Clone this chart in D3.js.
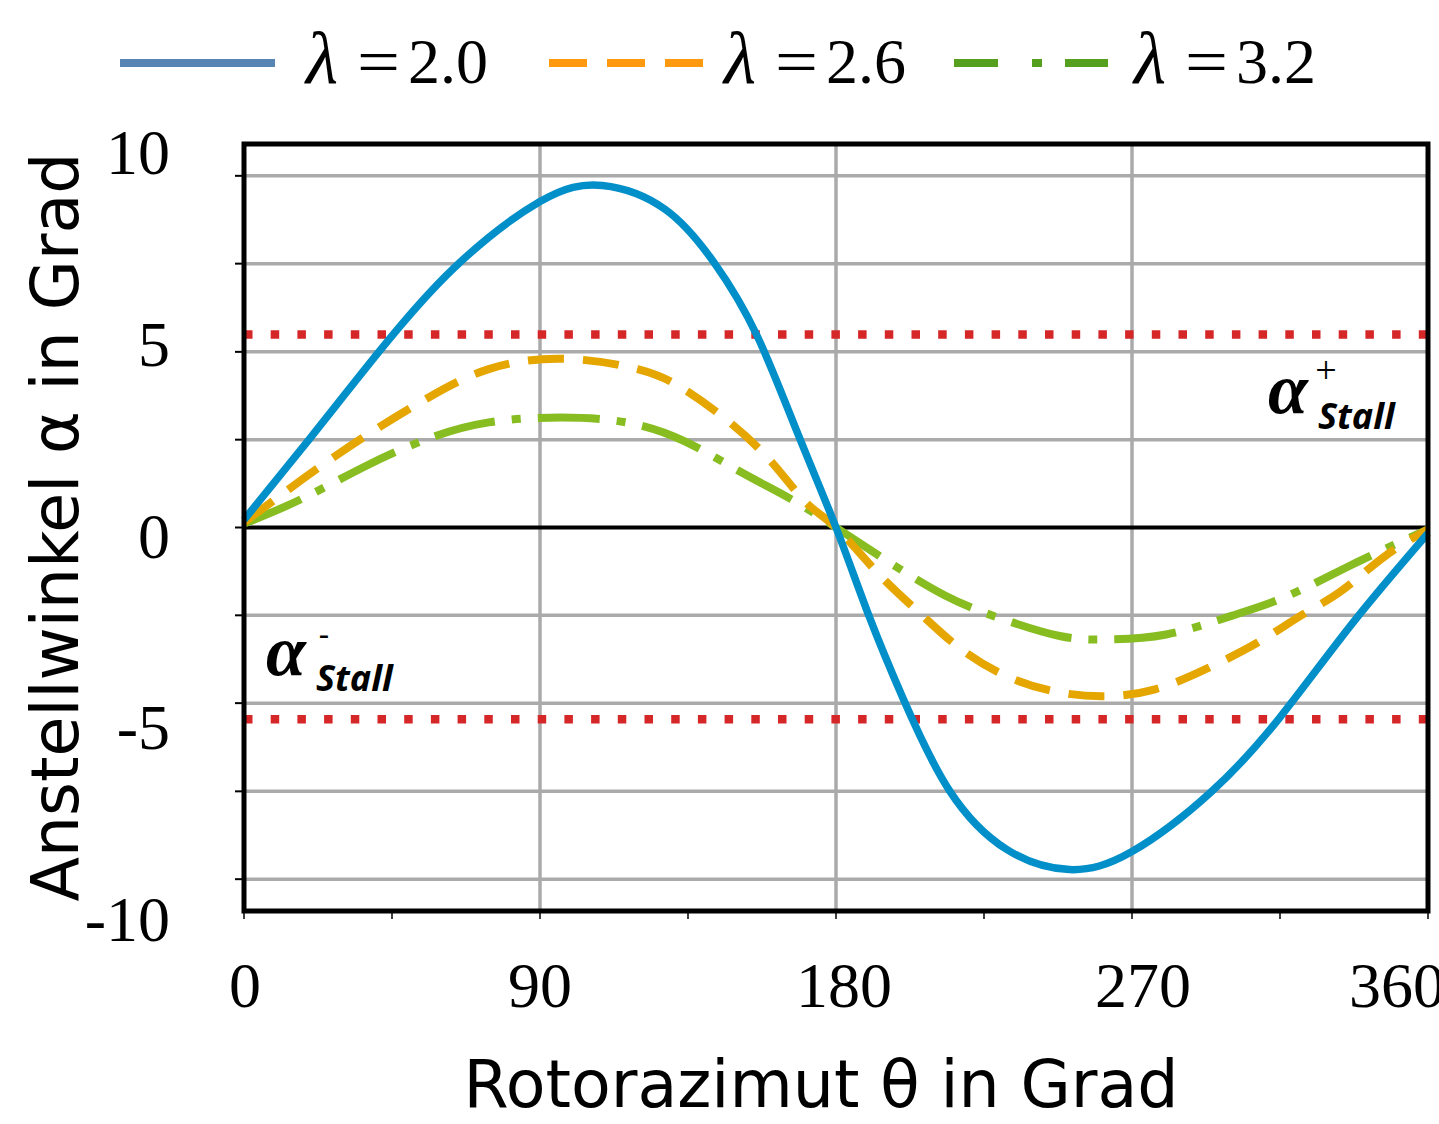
<!DOCTYPE html>
<html>
<head>
<meta charset="utf-8">
<script src="https://cdn.jsdelivr.net/npm/d3@7"></script>
<style>
  body { margin: 0; background: #fff; }
  svg { display: block; }
</style>
</head>
<body>
<svg id="chart" width="1439" height="1124"></svg>
<script>
// values
let lambdas = ['2.0', '2.6', '3.2'];

let thetaBlue = [0, 20, 41, 64, 90, 109, 128, 143, 156, 168.6, 180,
  190, 200.6, 214.5, 232, 251, 270, 294, 315, 337, 360];
let alphaBlue = [0.2, 2.32, 4.58, 6.78, 8.5, 8.92, 8.3, 6.9, 5.0, 2.4, 0,
  -2.3, -4.5, -6.86, -8.4, -8.92, -8.45, -6.9, -4.95, -2.5, -0.15];

let thetaOrange = [0, 27.9, 53.5, 74.4, 97, 119.7, 133.7, 147.7, 160.5, 170.9, 180,
  192.5, 205.3, 216.8, 230.7, 245.7, 260.8, 277, 293.2, 308.2, 322.1, 333.7, 346.4, 360];
let alphaOrange = [0.13, 1.87, 3.26, 4.13, 4.40, 4.13, 3.61, 2.74, 1.70, 0.65, 0,
  -1.17, -2.22, -3.09, -3.83, -4.26, -4.40, -4.22, -3.66, -3.0, -2.26, -1.65, -0.78, -0.05];

let thetaGreen = [0, 17.4, 37.2, 55.8, 74.4, 96.4, 116.3, 133.7, 151.2, 166.3, 180,
  194.8, 213.3, 230.7, 248, 261.9, 280.4, 300, 317.4, 338.3, 360];
let alphaGreen = [0.1, 0.74, 1.61, 2.31, 2.74, 2.87, 2.74, 2.26, 1.44, 0.74, 0,
  -0.83, -1.78, -2.39, -2.83, -2.92, -2.79, -2.31, -1.78, -0.91, -0.05];

let stallLevels = [5.03, -5.0];
let yGridValues = [-9.17, -6.88, -4.58, -2.29, 0, 2.29, 4.58, 6.88, 9.17];
let yTickLabels = [-10, -5, 0, 5, 10];
let xGridValues = [90, 180, 270];
let xMinorTicks = [0, 45, 90, 135, 180, 225, 270, 315, 360];
let xTickLabels = [0, 90, 180, 270, 360];

let svg = d3.select('#chart');

let x = d3.scaleLinear().domain([0, 360]).range([244, 1428]);
let y = d3.scaleLinear().domain([-10, 10]).range([911, 144]);

let serif = '"Liberation Serif", "Times New Roman", serif';
let sans = '"DejaVu Sans", sans-serif';

// grid
svg.append('g')
  .selectAll('line')
  .data(yGridValues.filter(d => d !== 0))
  .join('line')
  .attr('x1', x(0)).attr('x2', x(360))
  .attr('y1', d => y(d)).attr('y2', d => y(d))
  .attr('stroke', '#aaaaaa')
  .attr('stroke-width', 3.5);

svg.append('g')
  .selectAll('line')
  .data(xGridValues)
  .join('line')
  .attr('x1', d => x(d)).attr('x2', d => x(d))
  .attr('y1', y(10)).attr('y2', y(-10))
  .attr('stroke', '#aaaaaa')
  .attr('stroke-width', 3.5);

// zero line
svg.append('line')
  .attr('x1', x(0)).attr('x2', x(360))
  .attr('y1', y(0)).attr('y2', y(0))
  .attr('stroke', '#000')
  .attr('stroke-width', 4);

// stall limits
svg.append('g')
  .selectAll('line')
  .data(stallLevels)
  .join('line')
  .attr('x1', x(0)).attr('x2', x(360))
  .attr('y1', d => y(d)).attr('y2', d => y(d))
  .attr('stroke', '#d62728')
  .attr('stroke-width', 8.5)
  .attr('stroke-dasharray', '8.5,18.2');

// curves
let line = d3.line()
  .x(d => x(d[0]))
  .y(d => y(d[1]))
  .curve(d3.curveNatural);

let zip = (a, b) => a.map((v, i) => [v, b[i]]);

svg.append('path')
  .datum(zip(thetaGreen, alphaGreen))
  .attr('d', line)
  .attr('fill', 'none')
  .attr('stroke', '#88bd22')
  .attr('stroke-width', 8)
  .attr('stroke-dasharray', '62,17,9,17');

svg.append('path')
  .datum(zip(thetaOrange, alphaOrange))
  .attr('d', line)
  .attr('fill', 'none')
  .attr('stroke', '#e6a600')
  .attr('stroke-width', 8)
  .attr('stroke-dasharray', '36,19');

svg.append('path')
  .datum(zip(thetaBlue, alphaBlue))
  .attr('d', line)
  .attr('fill', 'none')
  .attr('stroke', '#008fc9')
  .attr('stroke-width', 7.5);

// ticks
svg.append('g')
  .selectAll('line')
  .data(yGridValues)
  .join('line')
  .attr('x1', x(0) - 9).attr('x2', x(0))
  .attr('y1', d => y(d)).attr('y2', d => y(d))
  .attr('stroke', '#000')
  .attr('stroke-width', 2);

svg.append('g')
  .selectAll('line')
  .data(xMinorTicks)
  .join('line')
  .attr('x1', d => x(d)).attr('x2', d => x(d))
  .attr('y1', y(-10)).attr('y2', y(-10) + 8)
  .attr('stroke', '#000')
  .attr('stroke-width', 1.5);

// frame
svg.append('rect')
  .attr('x', x(0)).attr('y', y(10))
  .attr('width', x(360) - x(0))
  .attr('height', y(-10) - y(10))
  .attr('fill', 'none')
  .attr('stroke', '#000')
  .attr('stroke-width', 5);

// tick labels
svg.append('g')
  .selectAll('text')
  .data(yTickLabels)
  .join('text')
  .attr('x', 170)
  .attr('y', d => y(d) + 30)
  .attr('text-anchor', 'end')
  .attr('font-family', serif)
  .attr('font-size', 64)
  .text(d => String(d));

let xLabelNudge = [1, 0, 8, 11, -31];
svg.append('g')
  .selectAll('text')
  .data(xTickLabels)
  .join('text')
  .attr('x', (d, i) => x(d) + xLabelNudge[i])
  .attr('y', 1007)
  .attr('text-anchor', 'middle')
  .attr('font-family', serif)
  .attr('font-size', 64)
  .text(d => String(d));

// axis titles
svg.append('text')
  .attr('x', 821)
  .attr('y', 1107)
  .attr('text-anchor', 'middle')
  .attr('font-family', sans)
  .attr('font-size', 65)
  .text('Rotorazimut θ in Grad');

svg.append('text')
  .attr('transform', 'translate(78,527) rotate(-90)')
  .attr('text-anchor', 'middle')
  .attr('font-family', sans)
  .attr('font-size', 65)
  .text('Anstellwinkel α in Grad');

// stall annotations
function stallLabel(ax, ay, sign) {
  let g = svg.append('g');
  g.append('text')
    .attr('x', ax).attr('y', ay)
    .attr('font-family', serif)
    .attr('font-size', 72)
    .attr('font-weight', 'bold')
    .attr('font-style', 'italic')
    .text('α');
  g.append('text')
    .attr('x', ax + 58).attr('y', ay - 30)
    .attr('text-anchor', 'middle')
    .attr('font-family', sign === '+' ? serif : sans)
    .attr('font-size', sign === '+' ? 38 : 30)
    .text(sign);
  g.append('text')
    .attr('x', ax + 50).attr('y', ay + 16)
    .attr('font-family', '"Noto Sans", sans-serif')
    .attr('font-size', 36)
    .attr('font-weight', 'bold')
    .attr('font-style', 'italic')
    .text('Stall');
}
stallLabel(1268, 413, '+');
stallLabel(266, 675, '-');

// legend
let legendColors = ['#5886b4', '#ff9a10', '#56a020'];
let legendDash = [null, '38,20', '44,34,10,23,44'];
let legendLineX = [[120, 275], [549, 705], [954, 1108]];
let legendTextX = [306, 724, 1134];

lambdas.forEach((lam, i) => {
  svg.append('line')
    .attr('x1', legendLineX[i][0]).attr('x2', legendLineX[i][1])
    .attr('y1', 63).attr('y2', 63)
    .attr('stroke', legendColors[i])
    .attr('stroke-width', 8)
    .attr('stroke-dasharray', legendDash[i]);
  svg.append('text')
    .attr('x', legendTextX[i]).attr('y', 83)
    .attr('font-family', serif)
    .attr('font-style', 'italic')
    .attr('font-size', 74)
    .text('λ');
  svg.append('text')
    .attr('x', legendTextX[i] + 51).attr('y', 83)
    .attr('font-family', serif)
    .attr('font-size', 64)
    .attr('textLength', 43)
    .attr('lengthAdjust', 'spacingAndGlyphs')
    .text('=');
  svg.append('text')
    .attr('x', legendTextX[i] + 102).attr('y', 83)
    .attr('font-family', serif)
    .attr('font-size', 64)
    .text(lam);
});
</script>
</body>
</html>
